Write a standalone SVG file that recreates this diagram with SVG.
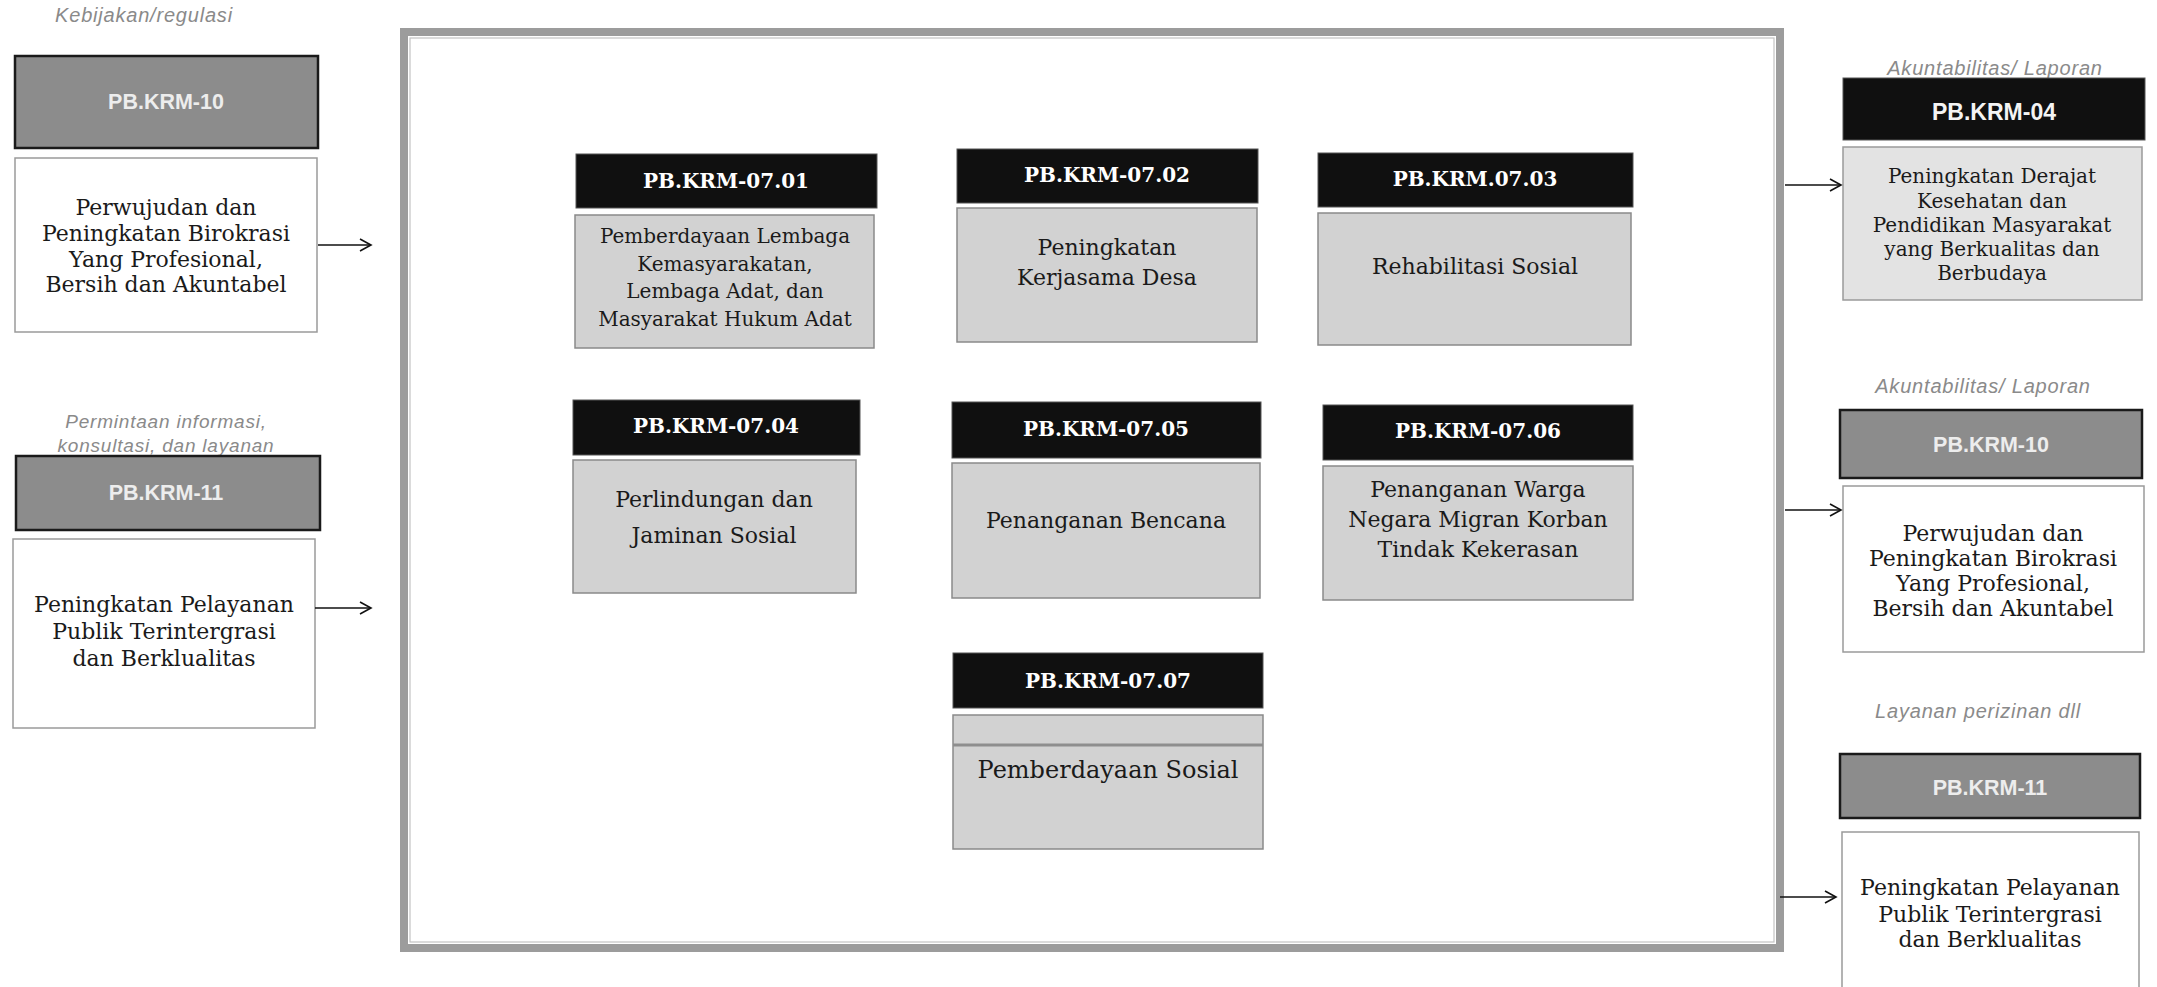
<svg xmlns="http://www.w3.org/2000/svg" width="2157" height="987" viewBox="0 0 2157 987">
<defs>
<style>
.bg{fill:#ffffff}
.frame{fill:none;stroke:#9c9c9c;stroke-width:8}
.frameIn{fill:none;stroke:#c4c4c4;stroke-width:1.2}
.hdrK{fill:#101010;stroke:#555;stroke-width:1}
.hdrG{fill:#8c8c8c;stroke:#1a1a1a;stroke-width:2.5}
.bodyG{fill:#d2d2d2;stroke:#8a8a8a;stroke-width:1.5}
.bodyL{fill:#e3e3e3;stroke:#9a9a9a;stroke-width:1.5}
.bodyW{fill:#ffffff;stroke:#9a9a9a;stroke-width:1.5}
.hs{font-family:"DejaVu Serif","Liberation Serif",serif;font-weight:bold;font-size:20px;fill:#ffffff;text-anchor:middle}
.hn{font-family:"Liberation Sans","DejaVu Sans",sans-serif;font-weight:bold;font-size:21.5px;fill:#ededed;text-anchor:middle}
.t{font-family:"DejaVu Serif","Liberation Serif",serif;font-size:22px;fill:#1a1a1a;text-anchor:middle}
.t20{font-size:20px}
.t24{font-size:24px}
.lab{font-family:"Liberation Sans","DejaVu Sans",sans-serif;font-style:italic;font-size:20px;fill:#8a8a8a;text-anchor:middle;letter-spacing:0.8px}
.conn{stroke:#111;stroke-width:1.6;fill:none}
</style>
<marker id="arr" markerWidth="14" markerHeight="14" refX="12" refY="7" orient="auto" markerUnits="userSpaceOnUse">
<path d="M1,1 L12,7 L1,13" fill="none" stroke="#111" stroke-width="1.6"/>
</marker>
</defs>
<rect class="bg" x="0" y="0" width="2157" height="987"/>

<g id="main-frame">
<rect class="frame" x="404" y="32" width="1376" height="916"/>
<rect class="frameIn" x="410" y="38" width="1364" height="904"/>
</g>

<g id="left-10">
<text class="lab" x="144" y="22">Kebijakan/regulasi</text>
<rect class="hdrG" x="15" y="56" width="303" height="92"/>
<text class="hn" x="166" y="109">PB.KRM-10</text>
<rect class="bodyW" x="15" y="158" width="302" height="174"/>
<text class="t" x="166" y="215">Perwujudan dan</text>
<text class="t" x="166" y="241">Peningkatan Birokrasi</text>
<text class="t" x="166" y="267">Yang Profesional,</text>
<text class="t" x="166" y="292">Bersih dan Akuntabel</text>
</g>

<g id="left-11">
<text class="lab" x="166" y="428" style="font-size:19px">Permintaan  informasi,</text>
<text class="lab" x="166" y="452" style="font-size:19px">konsultasi, dan layanan</text>
<rect class="hdrG" x="16" y="456" width="304" height="74"/>
<text class="hn" x="166" y="500">PB.KRM-11</text>
<rect class="bodyW" x="13" y="539" width="302" height="189"/>
<text class="t" x="164" y="612">Peningkatan Pelayanan</text>
<text class="t" x="164" y="639">Publik Terintergrasi</text>
<text class="t" x="164" y="666">dan Berklualitas</text>
</g>

<g id="pb-07-01">
<rect class="hdrK" x="576" y="154" width="301" height="54"/>
<text class="hs" x="726" y="188">PB.KRM-07.01</text>
<rect class="bodyG" x="575" y="215" width="299" height="133"/>
<text class="t t20" x="725" y="243">Pemberdayaan Lembaga</text>
<text class="t t20" x="725" y="271">Kemasyarakatan,</text>
<text class="t t20" x="725" y="298">Lembaga Adat, dan</text>
<text class="t t20" x="725" y="326">Masyarakat Hukum Adat</text>
</g>

<g id="pb-07-02">
<rect class="hdrK" x="957" y="149" width="301" height="54"/>
<text class="hs" x="1107" y="182">PB.KRM-07.02</text>
<rect class="bodyG" x="957" y="208" width="300" height="134"/>
<text class="t" x="1107" y="255">Peningkatan</text>
<text class="t" x="1107" y="285">Kerjasama Desa</text>
</g>

<g id="pb-07-03">
<rect class="hdrK" x="1318" y="153" width="315" height="54"/>
<text class="hs" x="1475" y="186">PB.KRM.07.03</text>
<rect class="bodyG" x="1318" y="213" width="313" height="132"/>
<text class="t" x="1475" y="274">Rehabilitasi Sosial</text>
</g>

<g id="pb-07-04">
<rect class="hdrK" x="573" y="400" width="287" height="55"/>
<text class="hs" x="716" y="433">PB.KRM-07.04</text>
<rect class="bodyG" x="573" y="460" width="283" height="133"/>
<text class="t" x="714" y="507">Perlindungan dan</text>
<text class="t" x="714" y="543">Jaminan Sosial</text>
</g>

<g id="pb-07-05">
<rect class="hdrK" x="952" y="402" width="309" height="56"/>
<text class="hs" x="1106" y="436">PB.KRM-07.05</text>
<rect class="bodyG" x="952" y="463" width="308" height="135"/>
<text class="t" x="1106" y="528">Penanganan Bencana</text>
</g>

<g id="pb-07-06">
<rect class="hdrK" x="1323" y="405" width="310" height="55"/>
<text class="hs" x="1478" y="438">PB.KRM-07.06</text>
<rect class="bodyG" x="1323" y="466" width="310" height="134"/>
<text class="t" x="1478" y="497">Penanganan Warga</text>
<text class="t" x="1478" y="527">Negara Migran Korban</text>
<text class="t" x="1478" y="557">Tindak Kekerasan</text>
</g>

<g id="pb-07-07">
<rect class="hdrK" x="953" y="653" width="310" height="55"/>
<text class="hs" x="1108" y="688">PB.KRM-07.07</text>
<rect class="bodyG" x="953" y="715" width="310" height="134"/>
<line x1="953" y1="745" x2="1263" y2="745" stroke="#8e8e8e" stroke-width="3"/>
<text class="t t24" x="1108" y="778">Pemberdayaan Sosial</text>
</g>

<g id="right-04">
<text class="lab" x="1995" y="75">Akuntabilitas/ Laporan</text>
<rect class="hdrK" x="1843" y="78" width="302" height="62"/>
<text class="hn" x="1994" y="120" style="font-size:23px;fill:#f4f4f4">PB.KRM-04</text>
<rect class="bodyL" x="1843" y="147" width="299" height="153"/>
<text class="t t20" x="1992" y="183">Peningkatan Derajat</text>
<text class="t t20" x="1992" y="208">Kesehatan dan</text>
<text class="t t20" x="1992" y="232">Pendidikan Masyarakat</text>
<text class="t t20" x="1992" y="256">yang Berkualitas dan</text>
<text class="t t20" x="1992" y="280">Berbudaya</text>
</g>

<g id="right-10">
<text class="lab" x="1983" y="393">Akuntabilitas/ Laporan</text>
<rect class="hdrG" x="1840" y="410" width="302" height="68"/>
<text class="hn" x="1991" y="452">PB.KRM-10</text>
<rect class="bodyW" x="1843" y="486" width="301" height="166"/>
<text class="t" x="1993" y="541">Perwujudan dan</text>
<text class="t" x="1993" y="566">Peningkatan Birokrasi</text>
<text class="t" x="1993" y="591">Yang Profesional,</text>
<text class="t" x="1993" y="616">Bersih dan Akuntabel</text>
</g>

<g id="right-11">
<text class="lab" x="1978" y="718">Layanan perizinan dll</text>
<rect class="hdrG" x="1840" y="754" width="300" height="64"/>
<text class="hn" x="1990" y="795">PB.KRM-11</text>
<rect class="bodyW" x="1842" y="832" width="297" height="170"/>
<text class="t" x="1990" y="895">Peningkatan Pelayanan</text>
<text class="t" x="1990" y="922">Publik Terintergrasi</text>
<text class="t" x="1990" y="947">dan Berklualitas</text>
</g>

<g id="connectors">
<line class="conn" x1="318" y1="245" x2="371" y2="245" marker-end="url(#arr)"/>
<line class="conn" x1="315" y1="608" x2="371" y2="608" marker-end="url(#arr)"/>
<line class="conn" x1="1785" y1="185" x2="1841" y2="185" marker-end="url(#arr)"/>
<line class="conn" x1="1785" y1="510" x2="1841" y2="510" marker-end="url(#arr)"/>
<line class="conn" x1="1780" y1="897" x2="1836" y2="897" marker-end="url(#arr)"/>
</g>
</svg>
